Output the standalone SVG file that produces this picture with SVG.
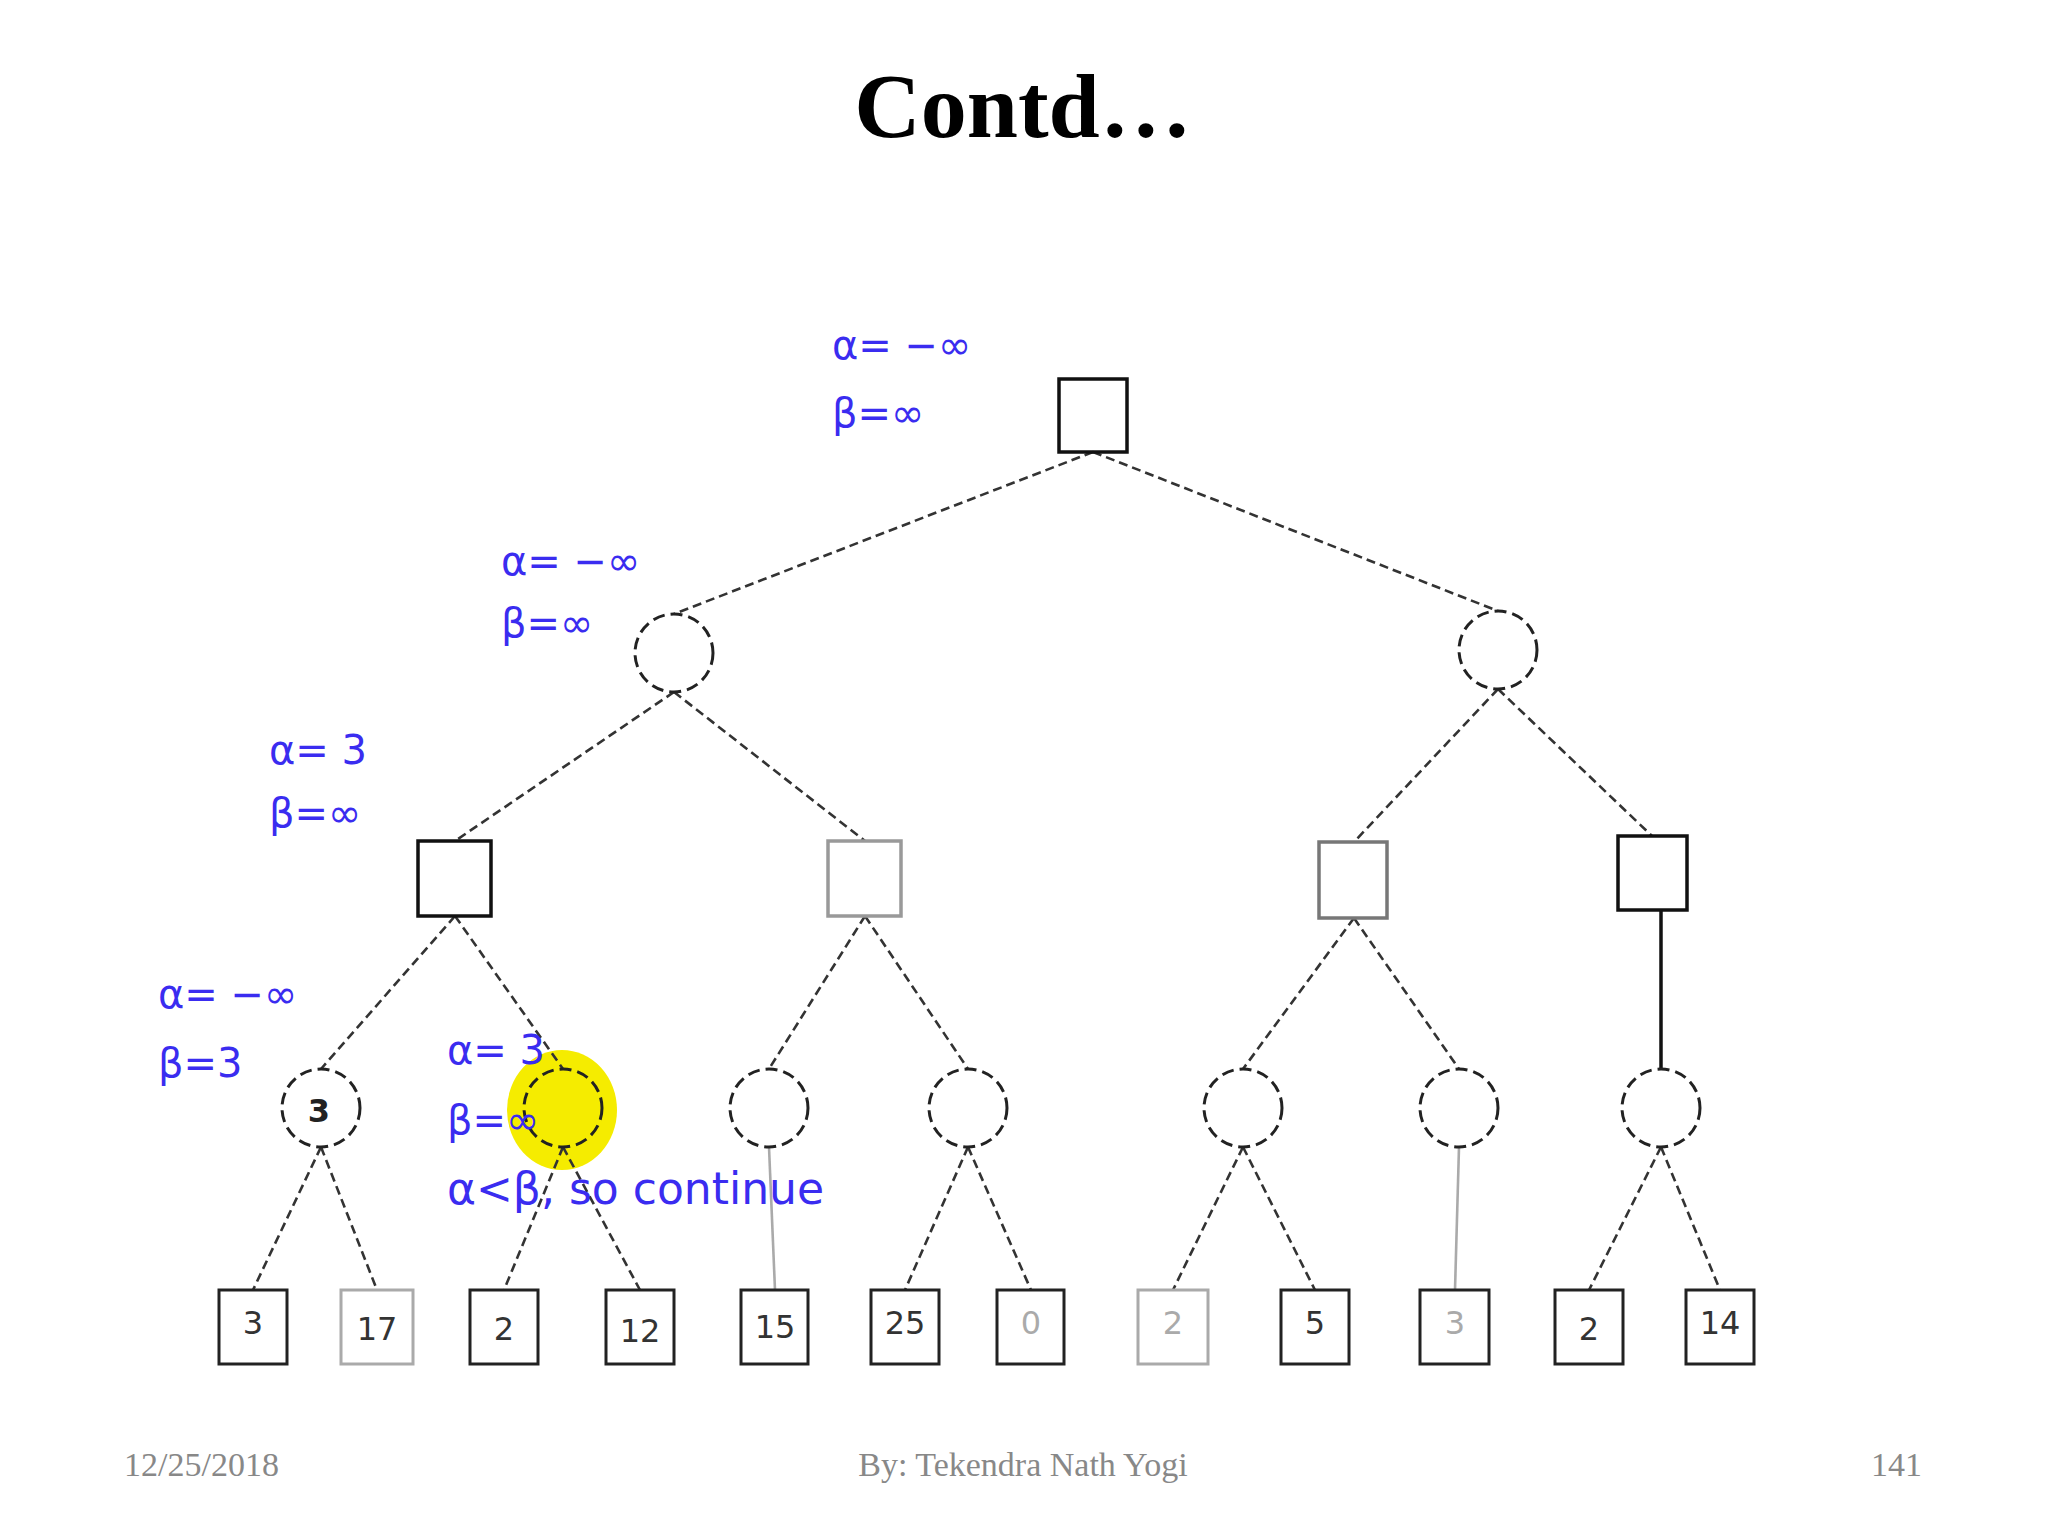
<svg xmlns="http://www.w3.org/2000/svg" width="2048" height="1536" viewBox="0 0 2048 1536">
<style>
.sq{fill:none;stroke:#111;stroke-width:3.5}
.lf{fill:#fff;stroke:#222;stroke-width:3}
.ci{fill:none;stroke:#222;stroke-width:3;stroke-dasharray:12 6}
.e{stroke:#333;stroke-width:2.6;stroke-dasharray:9 5;fill:none}
.g{stroke:#aaa;stroke-width:2.6;fill:none}
.lab{font-family:"DejaVu Sans",sans-serif;font-size:40px;fill:#3a2cf0}
.num{font-family:"DejaVu Sans",sans-serif;font-size:32px;fill:#333;text-anchor:middle}
.ft{font-family:"Liberation Serif",serif;font-size:34px;fill:#888}
</style>
<rect width="2048" height="1536" fill="#fff"/>
<text x="1023" y="137" text-anchor="middle" font-family="Liberation Serif,serif" font-weight="bold" font-size="92">Contd…</text>
<ellipse cx="562" cy="1110" rx="55" ry="60" fill="#f5ec00"/>
<g id="connectors">
<line class="e" x1="1093" y1="452" x2="674" y2="614"/>
<line class="e" x1="1093" y1="452" x2="1498" y2="611"/>
<line class="e" x1="674" y1="692" x2="455" y2="841"/>
<line class="e" x1="674" y1="692" x2="865" y2="841"/>
<line class="e" x1="1498" y1="689" x2="1354" y2="842"/>
<line class="e" x1="1498" y1="689" x2="1652" y2="836"/>
<line class="e" x1="455" y1="916" x2="321" y2="1069"/>
<line class="e" x1="455" y1="916" x2="563" y2="1069"/>
<line class="e" x1="865" y1="916" x2="769" y2="1069"/>
<line class="e" x1="865" y1="916" x2="968" y2="1069"/>
<line class="e" x1="1354" y1="918" x2="1243" y2="1069"/>
<line class="e" x1="1354" y1="918" x2="1459" y2="1069"/>
<line x1="1661" y1="910" x2="1661" y2="1069" stroke="#111" stroke-width="3.5"/>
<line class="e" x1="321" y1="1147" x2="253" y2="1290"/>
<line class="e" x1="321" y1="1147" x2="377" y2="1290"/>
<line class="e" x1="563" y1="1147" x2="504" y2="1290"/>
<line class="e" x1="563" y1="1147" x2="640" y2="1290"/>
<line class="g" x1="769" y1="1147" x2="775" y2="1290"/>
<line class="e" x1="968" y1="1147" x2="905" y2="1290"/>
<line class="e" x1="968" y1="1147" x2="1031" y2="1290"/>
<line class="e" x1="1243" y1="1147" x2="1173" y2="1290"/>
<line class="e" x1="1243" y1="1147" x2="1315" y2="1290"/>
<line class="g" x1="1459" y1="1147" x2="1455" y2="1290"/>
<line class="e" x1="1661" y1="1147" x2="1589" y2="1290"/>
<line class="e" x1="1661" y1="1147" x2="1720" y2="1290"/>
</g>
<g id="root"><rect class="sq" x="1059" y="379" width="68" height="73"/></g>
<g id="n1"><ellipse class="ci" cx="674" cy="653" rx="39" ry="39"/></g>
<g id="n2"><ellipse class="ci" cx="1498" cy="650" rx="39" ry="39"/></g>
<g id="n3"><rect class="sq" x="418" y="841" width="73" height="75"/></g>
<g id="n4"><rect class="sq" x="828" y="841" width="73" height="75" style="stroke:#999"/></g>
<g id="n5"><rect class="sq" x="1319" y="842" width="68" height="76" style="stroke:#777"/></g>
<g id="n6"><rect class="sq" x="1618" y="836" width="69" height="74"/></g>
<g id="c1"><ellipse class="ci" cx="321" cy="1108" rx="39" ry="39"/><text class="num" x="319" y="1122" style="fill:#222;font-weight:bold">3</text></g>
<g id="c2"><ellipse class="ci" cx="563" cy="1108" rx="39" ry="39"/></g>
<g id="c3"><ellipse class="ci" cx="769" cy="1108" rx="39" ry="39"/></g>
<g id="c4"><ellipse class="ci" cx="968" cy="1108" rx="39" ry="39"/></g>
<g id="c5"><ellipse class="ci" cx="1243" cy="1108" rx="39" ry="39"/></g>
<g id="c6"><ellipse class="ci" cx="1459" cy="1108" rx="39" ry="39"/></g>
<g id="c7"><ellipse class="ci" cx="1661" cy="1108" rx="39" ry="39"/></g>
<g id="l1"><rect class="lf" x="219" y="1290" width="68" height="74"/><text class="num" x="253" y="1334">3</text></g>
<g id="l2"><rect class="lf" x="341" y="1290" width="72" height="74" style="stroke:#aaa"/><text class="num" x="377" y="1340">17</text></g>
<g id="l3"><rect class="lf" x="470" y="1290" width="68" height="74"/><text class="num" x="504" y="1340">2</text></g>
<g id="l4"><rect class="lf" x="606" y="1290" width="68" height="74"/><text class="num" x="640" y="1342">12</text></g>
<g id="l5"><rect class="lf" x="741" y="1290" width="67" height="74"/><text class="num" x="775" y="1338">15</text></g>
<g id="l6"><rect class="lf" x="871" y="1290" width="68" height="74"/><text class="num" x="905" y="1334">25</text></g>
<g id="l7"><rect class="lf" x="997" y="1290" width="67" height="74"/><text class="num" x="1031" y="1334" style="fill:#aaa">0</text></g>
<g id="l8"><rect class="lf" x="1138" y="1290" width="70" height="74" style="stroke:#aaa"/><text class="num" x="1173" y="1334" style="fill:#aaa">2</text></g>
<g id="l9"><rect class="lf" x="1281" y="1290" width="68" height="74"/><text class="num" x="1315" y="1334">5</text></g>
<g id="l10"><rect class="lf" x="1420" y="1290" width="69" height="74"/><text class="num" x="1455" y="1334" style="fill:#aaa">3</text></g>
<g id="l11"><rect class="lf" x="1555" y="1290" width="68" height="74"/><text class="num" x="1589" y="1340">2</text></g>
<g id="l12"><rect class="lf" x="1686" y="1290" width="68" height="74"/><text class="num" x="1720" y="1334">14</text></g>
<g id="labels">
<text class="lab" x="832" y="359">α= −∞</text>
<text class="lab" x="832" y="427">β=∞</text>
<text class="lab" x="501" y="575">α= −∞</text>
<text class="lab" x="501" y="637">β=∞</text>
<text class="lab" x="269" y="764">α= 3</text>
<text class="lab" x="269" y="827">β=∞</text>
<text class="lab" x="158" y="1008">α= −∞</text>
<text class="lab" x="158" y="1077">β=3</text>
<text class="lab" x="447" y="1064">α= 3</text>
<text class="lab" x="447" y="1134">β=∞</text>
<text class="lab" x="447" y="1204" style="font-size:44px">α&lt;β, so continue</text>
</g>
<text class="ft" x="124" y="1476">12/25/2018</text>
<text class="ft" x="1023" y="1476" text-anchor="middle">By: Tekendra Nath Yogi</text>
<text class="ft" x="1922" y="1476" text-anchor="end">141</text>
</svg>
